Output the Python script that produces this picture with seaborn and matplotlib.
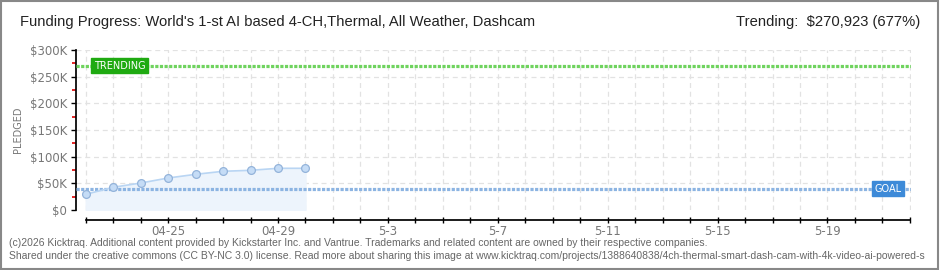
import pandas as pd
import seaborn as sns
from matplotlib import pyplot as plt
from matplotlib import dates as mdates
from matplotlib.patches import Rectangle

sns.set_theme(style="ticks")
plt.rcParams['font.family'] = ['Liberation Sans', 'DejaVu Sans']

# data
dates = pd.date_range('2026-04-22', '2026-04-30', freq='D')
pledged = [29400, 42600, 50600, 60000, 66900, 72600, 74400, 78200, 78200]
goal = 40000
trending = 270923

axis_days = pd.date_range('2026-04-22', '2026-05-22', freq='D')
label_days = pd.date_range('2026-04-25', '2026-05-19', freq='4D')
label_texts = ['04-25', '04-29', '5-3', '5-7', '5-11', '5-15', '5-19']
ytick_vals = [0, 50000, 100000, 150000, 200000, 250000, 300000]
ytick_texts = ['$0', '$50K', '$100K', '$150K', '$200K', '$250K', '$300K']

df = pd.DataFrame({'date': dates, 'pledged': pledged})

fig = plt.figure(figsize=(9.4, 2.7), dpi=100)
ax = fig.add_axes([76 / 940, 1 - 210 / 270, 835 / 940, 160 / 270])

ax.fill_between(df['date'], 0, df['pledged'], color='#edf4fc', zorder=1)
sns.lineplot(data=df, x='date', y='pledged', ax=ax, color='#b9d5f3', lw=1.2,
             marker='o', markersize=5.6, markerfacecolor='#c5dcf6',
             markeredgecolor='#93b3da', markeredgewidth=0.9, zorder=4, clip_on=False)

# goal / trending lines
ax.axhline(trending, color='#6fd35e', lw=2.3, dashes=(1.0, 0.45), zorder=3)
ax.axhline(goal, color='#8cb4e2', lw=2.3, dashes=(1.0, 0.45), zorder=3)

ax.text(pd.Timestamp('2026-04-22 07:00'), trending, 'TRENDING', color='white', fontsize=7,
        family='DejaVu Sans', va='center', ha='left', zorder=6,
        bbox=dict(boxstyle='square,pad=0.25', fc='#1faa11', ec='#1faa11'))
ax.text(pd.Timestamp('2026-05-20 17:00'), goal, 'GOAL', color='white', fontsize=7,
        family='DejaVu Sans', va='center', ha='left', zorder=6,
        bbox=dict(boxstyle='square,pad=0.25', fc='#3d8ad8', ec='#3d8ad8'))

ax.set_xlim(pd.Timestamp('2026-04-22') - pd.Timedelta(hours=8.5),
            pd.Timestamp('2026-05-22') + pd.Timedelta(hours=1))
ax.set_ylim(0, 300000)

# grid
for d in axis_days:
    ax.axvline(d, color='#e2e2e2', lw=0.9, dashes=(4, 3), zorder=0)
for v in ytick_vals[1:]:
    ax.axhline(v, color='#e2e2e2', lw=0.9, dashes=(4, 3), zorder=0)

ax.set_yticks(ytick_vals)
ax.set_yticklabels(ytick_texts, color='#777777', fontsize=8.5, family='DejaVu Sans')
ax.set_yticks(range(25000, 300000, 50000), minor=True)
ax.tick_params(axis='y', which='major', length=3.5, width=1, color='black', pad=3)
ax.tick_params(axis='y', which='minor', length=3, width=1.2, color='#dd0000')

ax.set_xticks(axis_days)
ax.set_xticklabels(['' for d in axis_days])
ax.tick_params(axis='x', which='major', direction='inout', length=4.3, width=1, color='black')
for d, t in zip(label_days, label_texts):
    ax.text(d, -0.095, t, transform=ax.get_xaxis_transform(), ha='center', va='top',
            color='#777777', fontsize=8.5, family='DejaVu Sans')

ax.spines['top'].set_visible(False)
ax.spines['right'].set_visible(False)
ax.spines['left'].set_color('black')
ax.spines['bottom'].set_color('black')
ax.spines['bottom'].set_position(('outward', 7.2))
ax.spines['bottom'].set_bounds(mdates.date2num(axis_days[0]), mdates.date2num(axis_days[-1]))
ax.set_xlabel('')
ax.set_ylabel('PLEDGED', color='#777777', fontsize=7, family='DejaVu Sans')
ax.yaxis.set_label_coords(-0.0635, 0.5)

fig.text(20 / 940, 1 - 22 / 270, "Funding Progress: World's 1-st AI based 4-CH,Thermal, All Weather, Dashcam",
         fontsize=10.6, color='#222222', va='center', ha='left')
fig.text(920 / 940, 1 - 22 / 270, 'Trending:  $270,923 (677%)',
         fontsize=10.6, color='#222222', va='center', ha='right')
fig.text(9 / 940, 1 - 243 / 270,
         '(c)2026 Kicktraq. Additional content provided by Kickstarter Inc. and Vantrue. Trademarks and related content are owned by their respective companies.',
         fontsize=7.5, color='#666666', va='center', ha='left')
fig.text(9 / 940, 1 - 256 / 270,
         'Shared under the creative commons (CC BY-NC 3.0) license. Read more about sharing this image at www.kicktraq.com/projects/1388640838/4ch-thermal-smart-dash-cam-with-4k-video-ai-powered-s',
         fontsize=7.5, color='#666666', va='center', ha='left')

fig.patches.append(Rectangle((0.001, 0.002), 0.997, 0.995, transform=fig.transFigure,
                             fill=False, ec='#888888', lw=1.5))

plt.savefig('out.png', dpi=100)
plt.close()
